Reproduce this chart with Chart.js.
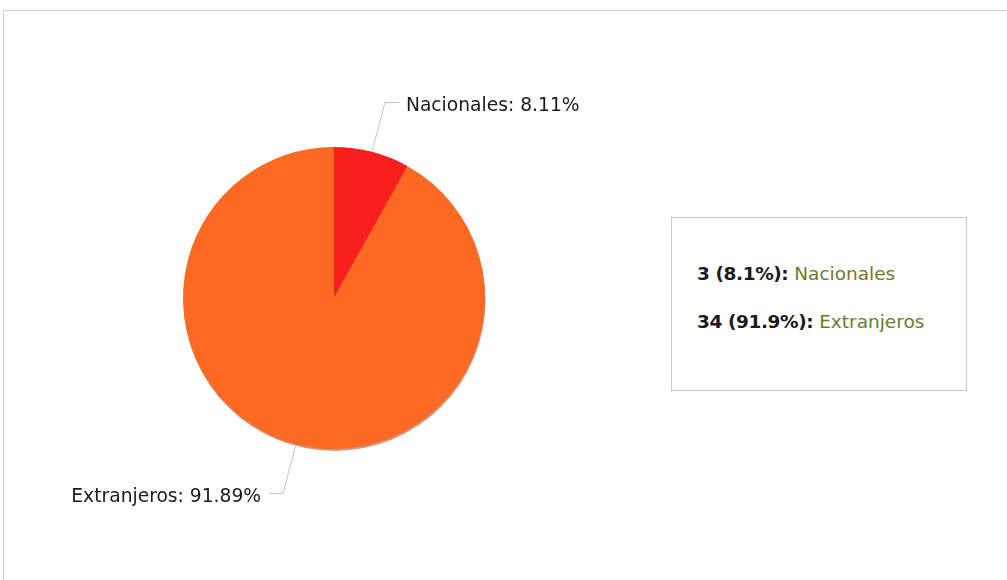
<!DOCTYPE html>
<html>
<head>
<meta charset="utf-8">
<script src="https://cdn.jsdelivr.net/npm/chart.js@4/dist/chart.umd.min.js"></script>
<style>
  html, body { margin: 0; padding: 0; background: #fff; overflow: hidden; }
  #frame {
    position: absolute; left: 3px; top: 10px; width: 1020px; height: 600px;
    border: 1px solid #cfcfcf; box-sizing: border-box;
  }
  #wrap { position: absolute; left: 0; top: 0; width: 1007px; height: 580px; }
  #legendBox {
    position: absolute; left: 671px; top: 217px; width: 296px; height: 174px;
    border: 1px solid #c8c8c8; box-sizing: border-box; background: #fff;
    font-family: "DejaVu Sans", Verdana, sans-serif; font-size: 18.5px; color: #1a1a1a;
  }
  #legendBox div { position: absolute; left: 25px; line-height: 22px; white-space: nowrap; }
  #legendBox b { letter-spacing: -0.4px; }
  #legendBox span { color: #6b7b2b; }
</style>
</head>
<body>
<div id="frame"></div>
<div id="wrap"><canvas id="pieChart" width="1007" height="580"></canvas></div>
<div id="legendBox"></div>

<script>
// ---------------- DATA ----------------
const labels = ['Nacionales', 'Extranjeros'];
const counts = [3, 34];
const sliceColors = ['#f91f1f', '#fb6922'];

const total = counts.reduce((a, b) => a + b, 0);

// ---------------- LEGEND BOX ----------------
// "value (pct%): name" lines, value part bold, name in olive
const legendBox = document.getElementById('legendBox');
labels.forEach((name, i) => {
    const row = document.createElement('div');
    row.style.top = (45 + i * 48) + 'px';
    const pct = (counts[i] / total * 100).toFixed(1);
    row.innerHTML = '<b>' + counts[i] + ' (' + pct + '%):</b> <span>' + name + '</span>';
    legendBox.appendChild(row);
});

// ---------------- PIE SHADOW ----------------
// soft darker edge under the pie, bottom side
const pieShadow = {
    id: 'pieShadow',
    beforeDatasetsDraw(chart) {
        const arc = chart.getDatasetMeta(0).data[0];
        const ctx = chart.ctx;
        ctx.save();
        ctx.beginPath();
        ctx.arc(arc.x + 0.5, arc.y + 2, arc.outerRadius, 0, Math.PI * 2);
        ctx.fillStyle = 'rgba(170, 70, 20, 0.55)';
        ctx.fill();
        ctx.restore();
    }
};

// ---------------- OUTSIDE LABELS ----------------
// leader line from slice edge, elbow, then "name: pct%"
const outsideLabels = {
    id: 'outsideLabels',
    afterDatasetsDraw(chart) {
        const ctx = chart.ctx;
        const meta = chart.getDatasetMeta(0);
        ctx.save();
        ctx.font = '18.7px "DejaVu Sans", Verdana, sans-serif';
        ctx.textBaseline = 'middle';
        meta.data.forEach((arc, i) => {
            const mid = (arc.startAngle + arc.endAngle) / 2;
            const r = arc.outerRadius;
            const x0 = arc.x + Math.cos(mid) * (r + 1);
            const y0 = arc.y + Math.sin(mid) * (r + 1);
            const x1 = arc.x + Math.cos(mid) * (r + 51);
            const y1 = arc.y + Math.sin(mid) * (r + 51);
            const right = Math.cos(mid) >= 0;
            const x2 = x1 + (right ? 14 : -14);

            ctx.beginPath();
            ctx.moveTo(x0, y0);
            ctx.lineTo(x1, y1);
            ctx.lineTo(x2, y1);
            ctx.strokeStyle = '#c4c4c4';
            ctx.lineWidth = 1;
            ctx.stroke();

            const pct = (counts[i] / total * 100).toFixed(2);
            ctx.fillStyle = '#1a1a1a';
            ctx.textAlign = right ? 'left' : 'right';
            ctx.fillText(labels[i] + ': ' + pct + '%', x2 + (right ? 7 : -8), y1 + 4);
        });
        ctx.restore();
    }
};

const pieCtx = document.getElementById('pieChart');

new Chart(pieCtx, {
    type: 'pie',
    data: {
        labels: labels,
        datasets: [{
            data: counts,
            backgroundColor: sliceColors,
            borderWidth: 0
        }]
    },
    options: {
        responsive: false,
        animation: false,
        // puts the pie at (334, 298) with radius 151
        layout: {
            padding: { left: 183, top: 147, right: 522, bottom: 131 }
        },
        plugins: {
            legend: { display: false },
            tooltip: { enabled: false }
        }
    },
    plugins: [pieShadow, outsideLabels]
});
</script>
</body>
</html>
